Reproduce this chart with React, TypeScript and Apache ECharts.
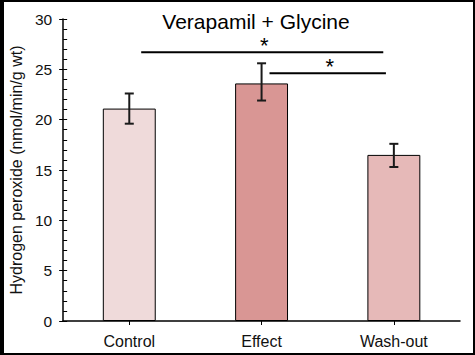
import React, { useEffect, useRef } from "react";
import * as echarts from "echarts";

const categories = ["Control", "Effect", "Wash-out"];
const means = [21.1, 23.6, 16.5];
const errLow = [19.6, 21.9, 15.3];
const errHigh = [22.6, 25.6, 17.6];
const barColors = ["#EFDADA", "#D99694", "#E6B9B8"];
// significance brackets: [start x (category units), end x, y level]
const sigStart = [0.09, 1.06];
const sigEnd = [1.92, 1.94];
const sigLevel = [26.7, 24.6];
const sigLabel = ["*", "*"];

const FONT = "'Liberation Sans', Arial, sans-serif";

export default function App() {
  const ref = useRef<HTMLDivElement>(null);
  useEffect(() => {
    if (!ref.current) return;
    const chart = echarts.init(ref.current, null, { renderer: "svg" });
    const option: any = {
      animation: false,
      backgroundColor: "#ffffff",
      textStyle: { fontFamily: FONT },
      title: {
        text: "Verapamil + Glycine",
        left: 251,
        textAlign: "center",
        top: 6,
        textStyle: { fontFamily: FONT, fontSize: 21, fontWeight: "normal", color: "#000" },
      },
      grid: { left: 61, right: 15, top: 19, bottom: 34, containLabel: false },
      xAxis: [
        {
          type: "category",
          data: categories,
          axisLine: { lineStyle: { color: "#000", width: 1.5 } },
          axisTick: { show: true, alignWithLabel: true, length: 4, lineStyle: { color: "#000" } },
          axisLabel: { color: "#111", fontSize: 16, margin: 12, fontFamily: FONT },
        },
        { type: "value", min: -0.5, max: 2.5, show: false },
      ],
      yAxis: [
        {
          type: "value",
          min: 0,
          max: 30,
          interval: 5,
          name: "Hydrogen peroxide (nmol/min/g wt)",
          nameLocation: "middle",
          nameGap: 35,
          nameTextStyle: { fontSize: 16, color: "#111", fontFamily: FONT },
          axisLine: { show: true, onZero: false, lineStyle: { color: "#000", width: 1.5 } },
          axisTick: { show: true, length: 4, lineStyle: { color: "#000" } },
          axisLabel: { color: "#111", fontSize: 15.5, margin: 11, fontFamily: FONT },
          splitLine: { show: false },
        },
        {
          type: "value",
          min: 0,
          max: 30,
          interval: 5,
          position: "left",
          axisLine: { show: false, onZero: false },
          axisTick: { show: true, inside: true, length: 4, lineStyle: { color: "#000" } },
          minorTick: { show: true, splitNumber: 5, length: 4, lineStyle: { color: "#000" } },
          axisLabel: { show: false },
          splitLine: { show: false },
        },
      ],
      series: [
        {
          type: "bar",
          barWidth: "40%",
          data: means.map((v, i) => ({
            value: v,
            itemStyle: { color: barColors[i], borderColor: "#000", borderWidth: 1 },
          })),
        },
        {
          type: "custom",
          data: categories.map((_, i) => [i, errLow[i], errHigh[i]]),
          renderItem: (params: any, api: any) => {
            const x = api.value(0);
            const lo = api.coord([x, api.value(1)]);
            const hi = api.coord([x, api.value(2)]);
            const w = 4.5;
            const style = { stroke: "#1a1a1a", lineWidth: 2 };
            return {
              type: "group",
              children: [
                { type: "line", shape: { x1: lo[0], y1: lo[1], x2: hi[0], y2: hi[1] }, style },
                { type: "line", shape: { x1: hi[0] - w, y1: hi[1], x2: hi[0] + w, y2: hi[1] }, style },
                { type: "line", shape: { x1: lo[0] - w, y1: lo[1], x2: lo[0] + w, y2: lo[1] }, style },
              ],
            };
          },
          z: 5,
        },
        {
          type: "custom",
          xAxisIndex: 1,
          data: sigLevel.map((y, i) => [sigStart[i], sigEnd[i], y, i]),
          renderItem: (params: any, api: any) => {
            const a = api.coord([api.value(0), api.value(2)]);
            const b = api.coord([api.value(1), api.value(2)]);
            const idx = api.value(3);
            return {
              type: "group",
              children: [
                {
                  type: "line",
                  shape: { x1: a[0], y1: a[1], x2: b[0], y2: b[1] },
                  style: { stroke: "#000", lineWidth: 2 },
                },
                {
                  type: "text",
                  x: (a[0] + b[0]) / 2 + 2,
                  y: a[1] + 4,
                  style: {
                    text: sigLabel[idx],
                    fontSize: 22,
                    fontFamily: FONT,
                    fill: "#000",
                    align: "center",
                    verticalAlign: "bottom",
                  },
                },
              ],
            };
          },
          z: 5,
        },
      ],
      graphic: [
        { type: "rect", shape: { x: 0, y: 0, width: 4, height: 355 }, style: { fill: "#000" } },
        { type: "rect", shape: { x: 0, y: 0, width: 475, height: 2 }, style: { fill: "#000" } },
        { type: "rect", shape: { x: 473, y: 0, width: 2, height: 355 }, style: { fill: "#000" } },
        { type: "rect", shape: { x: 0, y: 353, width: 475, height: 2 }, style: { fill: "#000" } },
      ],
    };
    chart.setOption(option);
    return () => chart.dispose();
  }, []);
  return (
    <div
      ref={ref}
      style={{ position: "fixed", left: 0, top: 0, width: 475, height: 355 }}
    />
  );
}
